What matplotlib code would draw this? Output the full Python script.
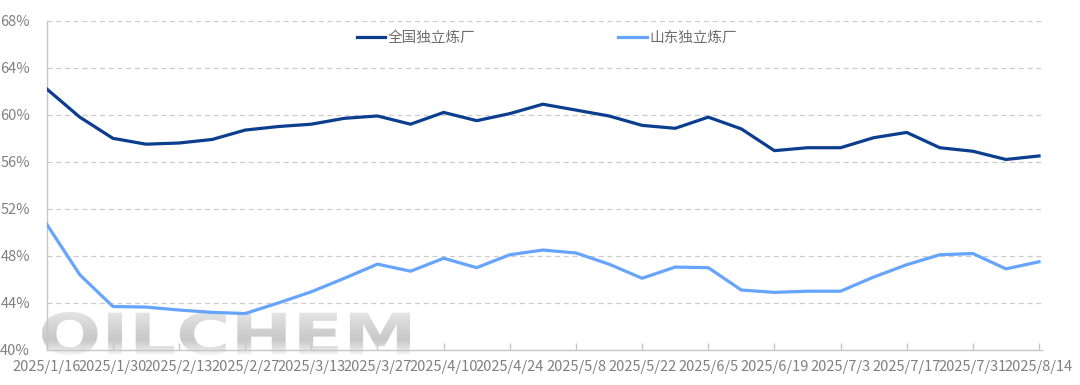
import numpy as np
import pandas as pd
import matplotlib
matplotlib.use("Agg")
import matplotlib.pyplot as plt
from matplotlib.textpath import TextPath
from matplotlib.patches import PathPatch
from matplotlib.font_manager import FontProperties
from matplotlib.colors import LinearSegmentedColormap

plt.rcParams['font.family'] = ['Noto Sans CJK SC', 'DejaVu Sans']

# weekly samples, 2025/1/16 .. 2025/8/14
dates = pd.date_range("2025-01-16", periods=31, freq="7D")
national = [62.2, 59.8, 58.0, 57.5, 57.6, 57.9, 58.7, 59.0, 59.2, 59.7,
            59.9, 59.2, 60.2, 59.5, 60.1, 60.9, 60.4, 59.9, 59.1, 58.85,
            59.8, 58.8, 56.95, 57.2, 57.2, 58.05, 58.5, 57.2, 56.9, 56.2, 56.5]
shandong = [50.7, 46.4, 43.7, 43.65, 43.4, 43.2, 43.1, 44.0, 44.95, 46.1,
            47.3, 46.7, 47.8, 47.0, 48.1, 48.5, 48.25, 47.3, 46.1, 47.05,
            47.0, 45.1, 44.9, 45.0, 45.0, 46.2, 47.25, 48.1, 48.2, 46.9, 47.5]
series_names = ["全国独立炼厂", "山东独立炼厂"]
yticks = [40, 44, 48, 52, 56, 60, 64, 68]

W, H = 1080, 385
fig = plt.figure(figsize=(W / 100, H / 100), dpi=100)
ax = fig.add_axes([46.7 / W, 35 / H, (1042 - 46.7) / W, (350 - 20.7) / H])

x = np.arange(len(dates))
ax.plot(x, national, color="#0B3E8E", lw=2.3, label=series_names[0], zorder=3,
        solid_joinstyle="round")
ax.plot(x, shandong, color="#67A4FB", lw=2.3, label=series_names[1], zorder=3,
        solid_joinstyle="round")

ax.set_xlim(0, 30.09)
ax.set_ylim(40, 68)
ax.set_yticks(yticks)
ax.set_yticklabels([f"{v}%" for v in yticks])
tick_idx = x[::2]
ax.set_xticks(tick_idx)
ax.set_xticklabels([f"{d.year}/{d.month}/{d.day}" for d in dates[::2]])

ax.tick_params(axis="y", length=0, pad=12, labelsize=10.5, labelcolor="#808080")
ax.tick_params(axis="x", direction="in", length=5, width=1, color="#c6c6c6",
               pad=7, labelsize=10.5, labelcolor="#808080")

for s in ["top", "right"]:
    ax.spines[s].set_visible(False)
for s in ["left", "bottom"]:
    ax.spines[s].set_color("#c6c6c6")
    ax.spines[s].set_linewidth(1)

for v in yticks[1:]:
    ax.axhline(v, color="#cccccc", lw=0.9, ls=(0, (4, 3)), zorder=1)

leg = ax.legend(loc="center left", bbox_to_anchor=(357 / W, 1 - 38 / H),
                bbox_transform=fig.transFigure, ncol=2, frameon=False,
                handlelength=1.95, handletextpad=0.15, columnspacing=9.8,
                borderpad=0, borderaxespad=0, fontsize=10.5)
for t in leg.get_texts():
    t.set_color("#6e6e6e")

# OILCHEM watermark with a grey vertical gradient
wx0, wy0, ww, wh = 42, 312, 368, 43
wax = fig.add_axes([wx0 / W, 1 - (wy0 + wh) / H, ww / W, wh / H], zorder=0.5)
wax.set_xlim(0, 1)
wax.set_ylim(0, 1)
wax.axis("off")
wax.patch.set_alpha(0)
tp = TextPath((0, 0), "OILCHEM", size=1,
              prop=FontProperties(family="DejaVu Sans", weight="bold"))
ext = tp.get_extents()
verts = tp.vertices.copy()
verts[:, 0] = (verts[:, 0] - ext.x0) / ext.width
verts[:, 1] = (verts[:, 1] - ext.y0) / ext.height
tp = matplotlib.path.Path(verts, tp.codes)
patch = PathPatch(tp, facecolor="none", edgecolor="none", transform=wax.transData)
wax.add_patch(patch)
cmap = LinearSegmentedColormap.from_list(
    "wm", [(0.0, "#f4f4f4"), (0.35, "#c8c8c8"), (0.7, "#d6d6d6"), (1.0, "#e4e4e4")])
grad = np.linspace(0, 1, 64).reshape(-1, 1)
im = wax.imshow(grad, cmap=cmap, extent=[0, 1, 0, 1], aspect="auto",
                origin="lower", vmin=0, vmax=1)
im.set_clip_path(patch)
ax.set_zorder(1)
ax.patch.set_alpha(0)

fig.savefig("out.png", dpi=100)
